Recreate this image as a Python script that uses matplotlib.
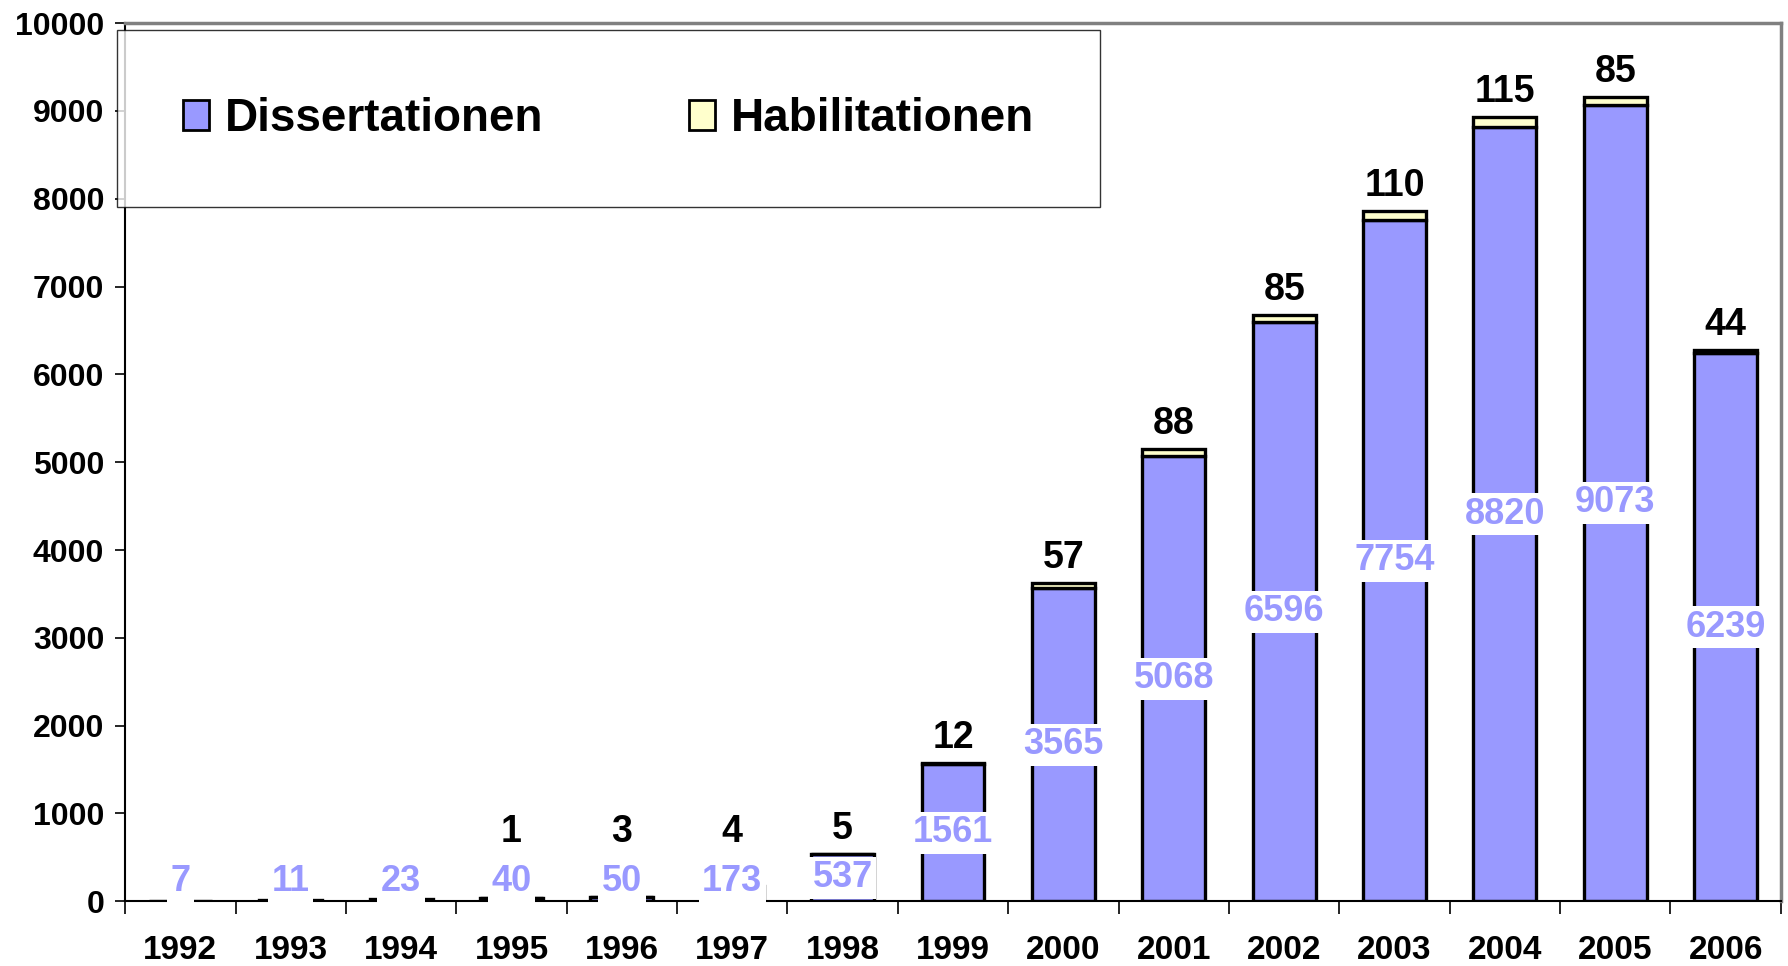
import matplotlib.pyplot as plt
from matplotlib.patches import Patch
import numpy as np

# Data
years = ['1992', '1993', '1994', '1995', '1996', '1997', '1998', '1999',
         '2000', '2001', '2002', '2003', '2004', '2005', '2006']
dissertationen = [7, 11, 23, 40, 50, 173, 537, 1561, 3565, 5068, 6596, 7754, 8820, 9073, 6239]
habilitationen = [0, 0, 0, 1, 3, 4, 5, 12, 57, 88, 85, 110, 115, 85, 44]

diss_color = '#9999FF'
hab_color = '#FFFFCC'

plt.rcParams['font.family'] = ['Liberation Sans', 'DejaVu Sans']
plt.rcParams['font.weight'] = 'bold'

fig = plt.figure(figsize=(17.88, 9.66), dpi=100)
ax = fig.add_axes([0.070, 0.067, 0.926, 0.909])

x = np.arange(len(years))
diss = np.array(dissertationen)
hab = np.array(habilitationen)
total = diss + hab
w = 0.57

ax.bar(x, diss, w, color=diss_color, edgecolor='black', linewidth=2.4, zorder=2)
m = hab > 0
ax.bar(x[m], hab[m], w, bottom=diss[m], color=hab_color, edgecolor='black',
       linewidth=2.4, zorder=2)

# Labels for Dissertationen (white boxes in bar middle)
for xi, d in zip(x, diss):
    ax.text(xi, max(d / 2, 225), str(d), ha='center', va='center',
            color=diss_color, fontsize=26, fontweight='bold', zorder=4,
            bbox=dict(boxstyle='square,pad=0.1', facecolor='white', edgecolor='none'))

# Labels for Habilitationen above bars
for xi, h, t in zip(x, hab, total):
    if h > 0:
        ax.annotate(str(h), (xi, max(t, 500)), xytext=(0, 18),
                    textcoords='offset points', ha='center', va='center',
                    fontsize=27, fontweight='bold', color='black', zorder=4)

ax.set_xlim(-0.5, len(years) - 0.5)
ax.set_ylim(0, 10000)
ax.set_yticks(np.arange(0, 10001, 1000))
ax.set_xticks(x, years)
ax.set_xticks(np.arange(-0.5, len(years), 1), minor=True)
ax.tick_params(axis='x', which='major', length=0, pad=24, labelsize=24)
ax.tick_params(axis='x', which='minor', length=9, width=1.2, direction='out')
ax.tick_params(axis='y', length=7, width=1.2, pad=8, labelsize=23)

for s in ['left', 'bottom']:
    ax.spines[s].set_color('black')
    ax.spines[s].set_linewidth(1.5)
for s in ['top', 'right']:
    ax.spines[s].set_color('#808080')
    ax.spines[s].set_linewidth(2.5)

handles = [Patch(facecolor=diss_color, edgecolor='black', linewidth=2, label='Dissertationen'),
           Patch(facecolor=hab_color, edgecolor='black', linewidth=2, label='Habilitationen')]
leg = ax.legend(handles=handles, ncol=2, loc='center',
                bbox_to_anchor=(-0.005, 0.891, 0.594, 0), mode='expand',
                borderaxespad=0, fontsize=33, frameon=True, fancybox=False,
                handlelength=0.55, handleheight=0.65, handletextpad=0.35,
                borderpad=1.45, columnspacing=2.5)
leg.get_frame().set_edgecolor('black')
leg.get_frame().set_linewidth(1.0)
leg.set_zorder(5)
for t in leg.get_texts():
    t.set_fontweight('bold')

fig.savefig('out.png', dpi=100)
